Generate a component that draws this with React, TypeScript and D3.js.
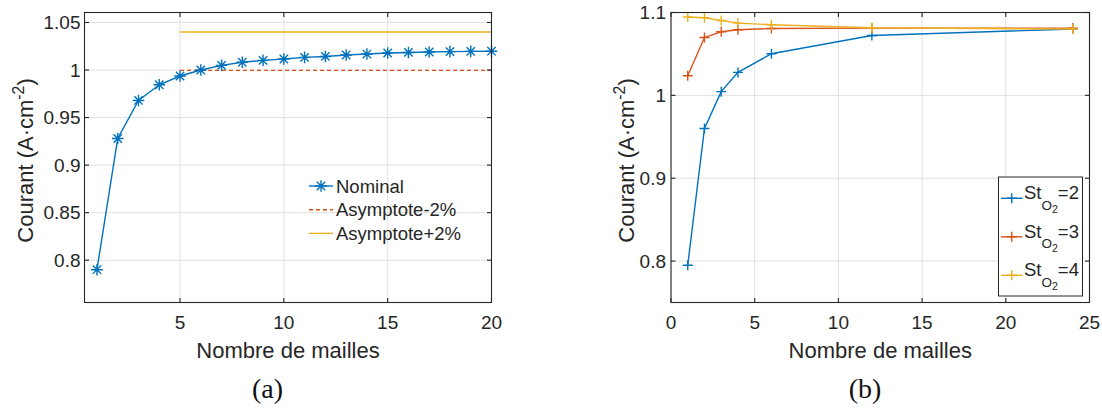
import React from 'react';
import * as d3 from 'd3';

// ---------- Data: panel (a) ----------
const nominalMeshes = [1, 2, 3, 4, 5, 6, 7, 8, 9, 10, 11, 12, 13, 14, 15, 16, 17, 18, 19, 20];
const nominalCurrent = [0.790, 0.928, 0.968, 0.9845, 0.9937, 1.0000, 1.0049, 1.0082, 1.0101, 1.0116,
  1.0133, 1.0143, 1.0158, 1.0168, 1.0179, 1.0185, 1.0190, 1.0193, 1.0196, 1.0198];
const asymptoteMeshes = [5, 20];
const asymptoteMinus = [0.9996, 0.9996];
const asymptotePlus = [1.0400, 1.0400];
const leftXTicks = [5, 10, 15, 20];
const leftYTicks = [0.8, 0.85, 0.9, 0.95, 1, 1.05];
const leftYTickLabels = ['0.8', '0.85', '0.9', '0.95', '1', '1.05'];
const leftLegend = ['Nominal', 'Asymptote-2%', 'Asymptote+2%'];

// ---------- Data: panel (b) ----------
const meshCounts = [1, 2, 3, 4, 6, 12, 24];
const currentSt2 = [0.795, 0.960, 1.0045, 1.0277, 1.0502, 1.0723, 1.0800];
const currentSt3 = [1.0237, 1.0699, 1.0768, 1.0792, 1.0807, 1.0812, 1.0812];
const currentSt4 = [1.0945, 1.0936, 1.0904, 1.0872, 1.0852, 1.0816, 1.0800];
const rightXTicks = [0, 5, 10, 15, 20, 25];
const rightYTicks = [0.8, 0.9, 1, 1.1];
const rightYTickLabels = ['0.8', '0.9', '1', '1.1'];
const rightLegendValues = ['2', '3', '4'];

const xLabel = 'Nombre de mailles';
const captions = ['(a)', '(b)'];

const C1 = '#0072BD';
const C2 = '#D95319';
const C3 = '#EDB120';
const AX = '#262626';
const GRID = '#e0e0e0';
const FONT = '"Liberation Sans", Arial, Helvetica, sans-serif';
const TICK_FS = 19;
const LABEL_FS = 22;
const TICK_LEN = 4.5;

type PanelProps = {
  x0: number; x1: number; y0: number; y1: number;
  xDomain: [number, number]; yDomain: [number, number];
  xTicks: number[]; yTicks: number[]; yTickLabels: string[];
  yLabelX: number; yTickGap: number;
  children: (x: d3.ScaleLinear<number, number>, y: d3.ScaleLinear<number, number>) => React.ReactNode;
};

function Panel(p: PanelProps) {
  const x = d3.scaleLinear().domain(p.xDomain).range([p.x0, p.x1]);
  const y = d3.scaleLinear().domain(p.yDomain).range([p.y1, p.y0]);
  const cx = (p.x0 + p.x1) / 2;
  const cy = (p.y0 + p.y1) / 2 + 3;
  return (
    <g>
      {p.xTicks.map((t) => (
        <line key={'gx' + t} x1={x(t)} x2={x(t)} y1={p.y0} y2={p.y1} stroke={GRID} strokeWidth={1} />
      ))}
      {p.yTicks.map((t) => (
        <line key={'gy' + t} x1={p.x0} x2={p.x1} y1={y(t)} y2={y(t)} stroke={GRID} strokeWidth={1} />
      ))}
      {p.children(x, y)}
      <rect x={p.x0} y={p.y0} width={p.x1 - p.x0} height={p.y1 - p.y0} fill="none" stroke={AX} strokeWidth={1.1} />
      {p.xTicks.map((t) => (
        <g key={'tx' + t}>
          <line x1={x(t)} x2={x(t)} y1={p.y1} y2={p.y1 - TICK_LEN} stroke={AX} strokeWidth={1.1} />
          <line x1={x(t)} x2={x(t)} y1={p.y0} y2={p.y0 + TICK_LEN} stroke={AX} strokeWidth={1.1} />
          <text x={x(t)} y={p.y1 + 26.5} textAnchor="middle" fontSize={TICK_FS} fill={AX} fontFamily={FONT}>{t}</text>
        </g>
      ))}
      {p.yTicks.map((t, i) => (
        <g key={'ty' + t}>
          <line x1={p.x0} x2={p.x0 + TICK_LEN} y1={y(t)} y2={y(t)} stroke={AX} strokeWidth={1.1} />
          <line x1={p.x1} x2={p.x1 - TICK_LEN} y1={y(t)} y2={y(t)} stroke={AX} strokeWidth={1.1} />
          <text x={p.x0 - p.yTickGap} y={y(t) + 6.7} textAnchor="end" fontSize={TICK_FS} fill={AX} fontFamily={FONT}>{p.yTickLabels[i]}</text>
        </g>
      ))}
      <text x={cx} y={p.y1 + 55} textAnchor="middle" fontSize={LABEL_FS} fill={AX} fontFamily={FONT}>{xLabel}</text>
      <text transform={`translate(${p.yLabelX},${cy}) rotate(-90)`} textAnchor="middle" fontSize={LABEL_FS} fill={AX} fontFamily={FONT}>
        Courant (A·cm<tspan dy={-9} fontSize={LABEL_FS * 0.72}>-2</tspan><tspan dy={9}>)</tspan>
      </text>
    </g>
  );
}

function asteriskPath(px: number, py: number, r: number) {
  const d = r * 0.72;
  return `M${px - r},${py}L${px + r},${py}M${px},${py - r}L${px},${py + r}` +
    `M${px - d},${py - d}L${px + d},${py + d}M${px - d},${py + d}L${px + d},${py - d}`;
}
function plusPath(px: number, py: number, r: number) {
  return `M${px - r},${py}L${px + r},${py}M${px},${py - r}L${px},${py + r}`;
}

export default function App() {
  const line = (xs: number[], ys: number[], x: any, y: any) =>
    d3.line<number>().x((_, i) => x(xs[i])).y((d) => y(d))(ys) || '';

  return (
    <svg width={1102} height={408} style={{ position: 'absolute', left: 0, top: 0, background: '#fff' }}>
      <rect width={1102} height={408} fill="#fff" />
      <Panel x0={84.5} x1={491.5} y0={12.5} y1={302.5} xDomain={[0.4, 20]} yDomain={[0.7555, 1.0605]}
        xTicks={leftXTicks} yTicks={leftYTicks} yTickLabels={leftYTickLabels} yLabelX={33} yTickGap={4}>
        {(x, y) => (
          <g>
            <path d={line(asymptoteMeshes, asymptoteMinus, x, y)} fill="none" stroke={C2} strokeWidth={1.4} strokeDasharray="4,3" />
            <path d={line(asymptoteMeshes, asymptotePlus, x, y)} fill="none" stroke={C3} strokeWidth={1.4} />
            <path d={line(nominalMeshes, nominalCurrent, x, y)} fill="none" stroke={C1} strokeWidth={1.4} />
            {nominalCurrent.map((v, i) => (
              <path key={i} d={asteriskPath(x(nominalMeshes[i]), y(v), 5.8)} stroke={C1} strokeWidth={1.4} fill="none" />
            ))}
            {leftLegend.map((name, i) => {
              const ly = 186 + i * 23.7;
              const col = [C1, C2, C3][i];
              return (
                <g key={name}>
                  <line x1={309} x2={333} y1={ly} y2={ly} stroke={col} strokeWidth={1.4}
                    strokeDasharray={i === 1 ? '4,3' : undefined} />
                  {i === 0 && <path d={asteriskPath(321, ly, 5.8)} stroke={C1} strokeWidth={1.4} fill="none" />}
                  <text x={336} y={ly + 6.5} fontSize={18.5} fill={AX} fontFamily={FONT}>{name}</text>
                </g>
              );
            })}
          </g>
        )}
      </Panel>

      <Panel x0={671} x1={1089.5} y0={12.5} y1={302.5} xDomain={[0, 25]} yDomain={[0.75, 1.1]}
        xTicks={rightXTicks} yTicks={rightYTicks} yTickLabels={rightYTickLabels} yLabelX={634} yTickGap={5}>
        {(x, y) => (
          <g>
            {[currentSt2, currentSt3, currentSt4].map((ser, si) => {
              const col = [C1, C2, C3][si];
              return (
                <g key={si}>
                  <path d={line(meshCounts, ser, x, y)} fill="none" stroke={col} strokeWidth={1.4} />
                  {ser.map((v, i) => (
                    <path key={i} d={plusPath(x(meshCounts[i]), y(v), 5)} stroke={col} strokeWidth={1.4} fill="none" />
                  ))}
                </g>
              );
            })}
            <rect x={998.5} y={177} width={84} height={119} fill="#fff" stroke={AX} strokeWidth={1} />
            {rightLegendValues.map((v, i) => {
              const ly = 198.3 + i * 38.5;
              const col = [C1, C2, C3][i];
              return (
                <g key={v}>
                  <line x1={1001} x2={1022.5} y1={ly} y2={ly} stroke={col} strokeWidth={1.4} />
                  <path d={plusPath(1011.75, ly, 5)} stroke={col} strokeWidth={1.4} fill="none" />
                  <text x={1024} y={ly + 1} fontSize={18.5} fill={AX} fontFamily={FONT}>
                    St<tspan dy={10.5} fontSize={13.5}>O</tspan><tspan dy={3.5} fontSize={10.5}>2</tspan><tspan dy={-14} fontSize={18.5}>={v}</tspan>
                  </text>
                </g>
              );
            })}
          </g>
        )}
      </Panel>

      <text x={267.5} y={398} textAnchor="middle" fontSize={28} fill="#111" fontFamily='"Liberation Serif", "Times New Roman", serif'>{captions[0]}</text>
      <text x={865} y={398} textAnchor="middle" fontSize={28} fill="#111" fontFamily='"Liberation Serif", "Times New Roman", serif'>{captions[1]}</text>
    </svg>
  );
}
